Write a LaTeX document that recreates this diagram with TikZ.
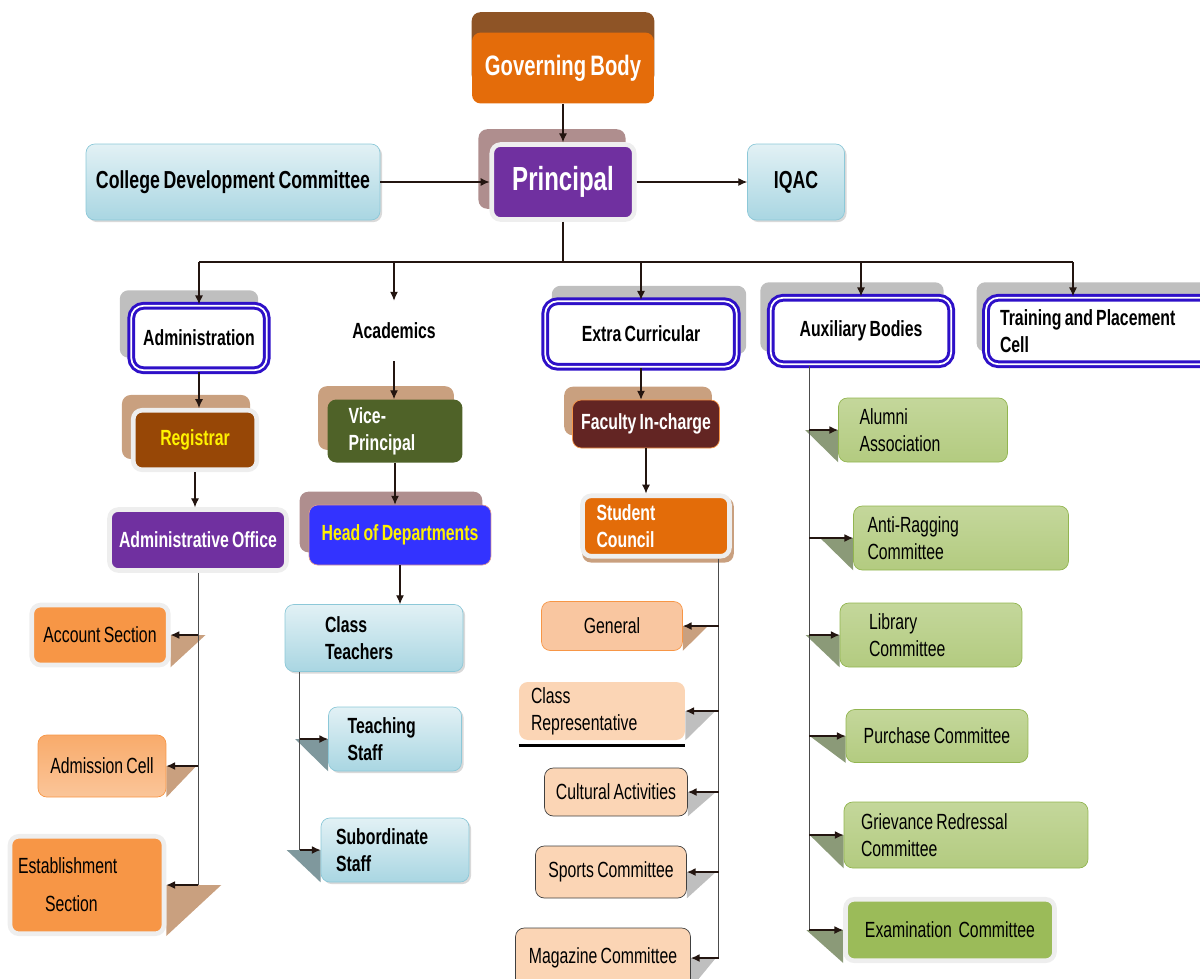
\documentclass[tikz,border=0pt]{standalone}
\usepackage{fontspec}
\setmainfont{Liberation Sans}[FakeStretch=0.72, WordSpace=0.75]
\usepackage{tikz}
\usetikzlibrary{arrows.meta, positioning, backgrounds, shadows, calc}

\definecolor{govorange}{HTML}{E46C0A}
\definecolor{govtab}{HTML}{8E5426}
\definecolor{purp}{HTML}{7030A0}
\definecolor{mauve}{HTML}{AF8E8E}
\definecolor{tabtan}{HTML}{C9A07F}
\definecolor{tabgray}{HTML}{BFBFBF}
\definecolor{frameblue}{HTML}{2E10C8}
\definecolor{framegray}{HTML}{EEEEEE}
\definecolor{lblueA}{HTML}{E2F1F5}
\definecolor{lblueB}{HTML}{A9D6E2}
\definecolor{lblueD}{HTML}{8CC8D8}
\definecolor{regbrown}{HTML}{974706}
\definecolor{vpgreen}{HTML}{4F6228}
\definecolor{hodblue}{HTML}{3333FF}
\definecolor{hodedge}{HTML}{D99694}
\definecolor{ficmaroon}{HTML}{632523}
\definecolor{secorange}{HTML}{F79646}
\definecolor{scorange}{HTML}{E36C09}
\definecolor{peach}{HTML}{FBD5B5}
\definecolor{peachdark}{HTML}{F9C6A0}
\definecolor{greenA}{HTML}{C4D79B}
\definecolor{greenB}{HTML}{9BBB59}
\definecolor{greenC}{HTML}{B3CB80}
\definecolor{greenedge}{HTML}{92B550}
\definecolor{foldteal}{HTML}{7F989D}
\definecolor{foldgreen}{HTML}{8B9A78}
\definecolor{linedark}{HTML}{231510}

\tikzset{lpad/.style 2 args={align=flush left, text width=#1, inner xsep=#2}}

% tab behind a box, shifted by (dx,dy) in px
\newcommand{\backtab}[4]{\fill[#2, rounded corners=5pt] ([shift={(#3,#4)}]#1.south west) rectangle ([shift={(#3,#4)}]#1.north east);}
% slanted shadow on the right / left side of a box
\newcommand{\foldr}[3]{\fill[#3] (#1.east) -- ([xshift=#2]#1.east) -- (#1.south east) -- cycle;}
\newcommand{\foldl}[3]{\fill[#3] ([xshift=-#2]#1.west) -- (#1.west) -- (#1.south west) -- cycle;}

\begin{document}
\begin{tikzpicture}[x=0.02cm, y=-0.02cm,
            box/.style={rectangle, rounded corners=5pt, inner sep=0pt, align=center, font=\fontsize{12.5}{15.5}\selectfont\bfseries},
            plain/.style={box, font=\fontsize{12.5}{15.5}\selectfont},
            framed/.style={draw=framegray, line width=2.6pt},
            headbox/.style={box, fill=white, rounded corners=7pt, draw=frameblue, line width=1.7pt, double=white, double distance=1pt},
            skyblue/.style={box, top color=lblueA, bottom color=lblueB, draw=lblueD, thin, drop shadow={shadow xshift=1.2pt, shadow yshift=-1.2pt, opacity=0.3}},
            greenbox/.style={plain, top color=greenA, middle color=greenB, bottom color=greenC, draw=greenedge, thin},
            peachbox/.style={plain, fill=peach, draw=black!75, thin},
            arrow/.style={-{Latex[length=5pt,width=4.5pt]}, semithick, linedark},
            trunk/.style={thin, black!70}
        ]
            \useasboundingbox (0,0) rectangle (1200,978);

% Top of the chart
            \node[box, fill=govorange, text=white, font=\fontsize{16}{19}\selectfont\bfseries, minimum width=3.64cm, minimum height=1.42cm] (gov) at (563,68) {Governing Body};
            \node[box, framed, fill=purp, text=white, font=\fontsize{19}{23}\selectfont\bfseries, minimum width=2.85cm, minimum height=1.5cm] (prin) at (563,182) {Principal};
            \node[skyblue, font=\fontsize{14}{17}\selectfont\bfseries, minimum width=5.88cm, minimum height=1.52cm] (cdc) at (233,182) {College Development Committee};
            \node[skyblue, font=\fontsize{14}{17}\selectfont\bfseries, minimum width=1.94cm, minimum height=1.52cm] (iqac) at (796,182) {IQAC};

% Second level
            \node[headbox, minimum width=2.71cm, minimum height=1.29cm] (adm) at (199,338) {Administration};
            \node[box, minimum height=1.2cm] (acad) at (394,331) {Academics};
            \node[headbox, minimum width=3.83cm, minimum height=1.31cm] (exc) at (641,334) {Extra Curricular};
            \node[headbox, minimum width=3.61cm, minimum height=1.33cm] (aux) at (861,331) {Auxiliary Bodies};
            \node[headbox, lpad={4.24cm}{0.28cm}, minimum height=1.33cm] (tpc) at (1106,331) {Training and Placement\\Cell};

% Administration
            \node[box, framed, fill=regbrown, text=yellow, minimum width=2.47cm, minimum height=1.19cm] (reg) at (195,440) {Registrar};
            \node[box, framed, fill=purp, text=white, minimum width=3.54cm, minimum height=1.22cm] (aoff) at (198,540) {Administrative Office};
            \node[plain, framed, fill=secorange, minimum width=2.73cm, minimum height=1.2cm] (acc) at (100,635) {Account Section};
            \node[plain, top color=secorange!80!white, middle color=secorange, bottom color=secorange!55!white, draw=secorange, minimum width=2.56cm, minimum height=1.24cm] (admc) at (102,766) {Admission Cell};
            \node[plain, framed, fill=secorange, lpad={2.76cm}{0.16cm}, minimum height=1.95cm] (est) at (87,885) {Establishment\\[6pt]\hspace*{0.54cm}Section};

% Academics
            \node[box, fill=vpgreen, text=white, lpad={1.86cm}{0.42cm}, minimum height=1.26cm] (vp) at (395,431) {Vice-\\Principal};
            \node[box, fill=hodblue, draw=hodedge, text=yellow, minimum width=3.64cm, minimum height=1.2cm] (hod) at (400,535) {Head of Departments};
            \node[skyblue, lpad={1.96cm}{0.8cm}, minimum height=1.34cm] (clt) at (374,638) {Class\\Teachers};
            \node[skyblue, lpad={1.9cm}{0.38cm}, minimum height=1.28cm] (tst) at (395,739) {Teaching\\Staff};
            \node[skyblue, lpad={2.36cm}{0.3cm}, minimum height=1.28cm] (sst) at (395,850) {Subordinate\\Staff};

% Extra curricular
            \node[box, fill=ficmaroon, draw=secorange, text=white, minimum width=2.94cm, minimum height=0.96cm] (fic) at (646,424) {Faculty In-charge};
            \node[box, framed, fill=scorange, text=white, lpad={2.38cm}{0.28cm}, minimum height=1.21cm] (scn) at (656,526) {Student\\Council};
            \node[plain, fill=peachdark, draw=secorange, minimum width=2.82cm, minimum height=0.98cm] (gen) at (612,626) {General};
            \node[plain, fill=peach, lpad={2.84cm}{0.24cm}, minimum height=1.16cm] (crep) at (602,711) {Class\\Representative};
            \node[peachbox, minimum width=2.86cm, minimum height=0.96cm] (cult) at (616,792) {Cultural Activities};
            \node[peachbox, minimum width=3.02cm, minimum height=1.04cm] (spt) at (611,872) {Sports Committee};
            \node[peachbox, minimum width=3.5cm, minimum height=1.2cm] (mag) at (603,958) {Magazine Committee};

% Auxiliary bodies
            \node[greenbox, lpad={2.54cm}{0.42cm}, minimum height=1.28cm] (alu) at (923,430) {Alumni\\Association};
            \node[greenbox, lpad={3.74cm}{0.28cm}, minimum height=1.28cm] (arc) at (961,538) {Anti-Ragging\\Committee};
            \node[greenbox, lpad={2.48cm}{0.58cm}, minimum height=1.28cm] (lib) at (931,635) {Library\\Committee};
            \node[greenbox, minimum width=3.64cm, minimum height=1.06cm] (pur) at (937,736) {Purchase Committee};
            \node[greenbox, lpad={4.2cm}{0.34cm}, minimum height=1.32cm] (grc) at (966,835) {Grievance Redressal\\Committee};
            \node[plain, framed, fill=greenB, minimum width=4.18cm, minimum height=1.23cm] (exm) at (950,930) {Examination\ \ Committee};

% Connections at the top
            \coordinate (bus) at (563,262);
            \coordinate (tpcin) at ([xshift=-0.66cm]tpc.north);
            \draw[arrow] (gov) -- (prin);
            \draw[arrow] (cdc) -- (prin);
            \draw[arrow] (prin) -- (iqac);
            \draw[semithick, linedark] (prin) -- (bus);
            \draw[semithick, linedark] (adm |- bus) -- (tpcin |- bus);
            \draw[arrow] (adm |- bus) -- (adm);
            \draw[arrow] (acad |- bus) -- (acad);
            \draw[arrow] (exc |- bus) -- (exc);
            \draw[arrow] (aux |- bus) -- (aux);
            \draw[arrow] (tpcin |- bus) -- (tpcin);

% Chains
            \draw[arrow] (adm.south) -- (adm.south |- reg.north);
            \draw[arrow] (reg.south) -- (reg.south |- aoff.north);
            \draw[arrow] (acad.south) -- (acad.south |- vp.north);
            \draw[arrow] (vp.south) -- (vp.south |- hod.north);
            \draw[arrow] (hod.south) -- (hod.south |- clt.north);
            \draw[arrow] (exc.south) -- (exc.south |- fic.north);
            \draw[arrow] (fic.south) -- (fic.south |- scn.north);

% Side branches
            \draw[trunk] (aoff.south) -- (aoff.south |- est.east);
            \foreach \n in {acc, admc, est}
                \draw[arrow, thick] (aoff.south |- \n.east) -- (\n.east);
            \coordinate (ctrunk) at ([xshift=0.3cm]clt.south west);
            \draw[trunk] (ctrunk) -- (ctrunk |- sst.west);
            \foreach \n in {tst, sst}
                \draw[arrow, thick] (ctrunk |- \n.west) -- (\n.west);
            \coordinate (strunk) at ([xshift=-0.26cm]scn.south east);
            \draw[trunk] (strunk) -- (strunk |- mag.east);
            \foreach \n in {gen, crep, cult, spt, mag}
                \draw[arrow, thick] (strunk |- \n.east) -- (\n.east);
            \coordinate (atrunk) at ([xshift=0.8cm]aux.south west);
            \draw[trunk] (atrunk) -- (atrunk |- exm.west);
            \foreach \n in {alu, arc, lib, pur, grc, exm}
                \draw[arrow, thick] (atrunk |- \n.west) -- (\n.west);
            \draw[line width=1.6pt] ([yshift=-3pt]crep.south west) -- ([yshift=-3pt]crep.south east);

% Tabs and shadows
            \begin{scope}[on background layer]
                \backtab{gov}{govtab}{0}{-20}
                \backtab{prin}{mauve}{-11}{-13}
                \backtab{adm}{tabgray}{-10}{-14}
                \backtab{exc}{tabgray}{8}{-14}
                \backtab{aux}{tabgray}{-9}{-14}
                \backtab{tpc}{tabgray}{-8}{-14}
                \backtab{reg}{tabtan}{-9}{-13}
                \backtab{vp}{tabtan}{-9}{-13}
                \backtab{hod}{mauve}{-9}{-13}
                \backtab{fic}{tabtan}{-8}{-13}
                \backtab{scn}{tabtan}{2}{4}
                \foldr{acc}{0.7cm}{tabtan}
                \foldr{admc}{0.6cm}{tabtan}
                \foldr{est}{1.1cm}{tabtan}
                \foldl{tst}{0.66cm}{foldteal}
                \foldl{sst}{0.68cm}{foldteal}
                \foldr{gen}{0.5cm}{tabtan}
                \foldr{crep}{0.6cm}{tabgray}
                \foldr{cult}{0.56cm}{tabgray}
                \foldr{spt}{0.58cm}{tabgray}
                \foldr{mag}{0.5cm}{tabgray}
                \foreach \n/\w in {alu/0.66cm, arc/0.66cm, lib/0.68cm, pur/0.72cm, grc/0.68cm, exm/0.74cm}
                    {\foldl{\n}{\w}{foldgreen}}
            \end{scope}

        \end{tikzpicture}
\end{document}
